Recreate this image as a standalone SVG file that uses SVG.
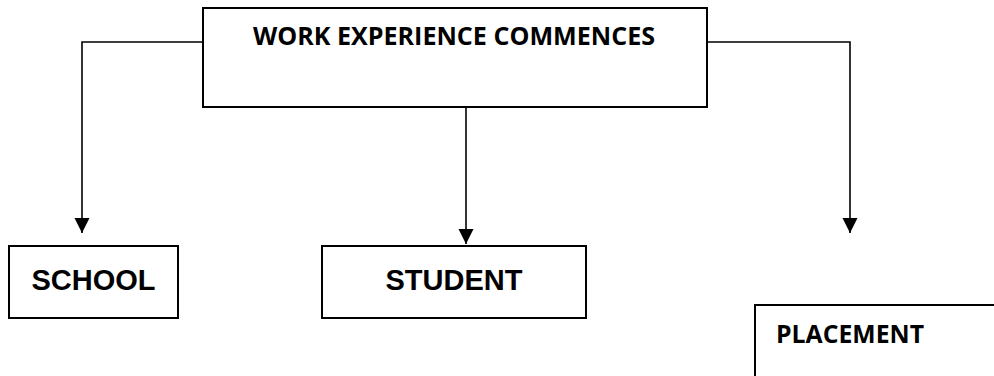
<svg xmlns="http://www.w3.org/2000/svg" width="994" height="376" viewBox="0 0 994 376">
<style>
.box{fill:#fff;stroke:#000;stroke-width:2}
.con{fill:none;stroke:#000;stroke-width:1.6}
.cal{font-family:"Open Sans","Liberation Sans",sans-serif;font-weight:bold;font-size:25px;fill:#000}
.ari{font-family:"Liberation Sans",Arial,sans-serif;font-weight:bold;font-size:29px;fill:#000}
</style>
<defs>
<marker id="ah" markerUnits="userSpaceOnUse" markerWidth="16" markerHeight="16" viewBox="0 0 16 16" refX="15" refY="8" orient="auto">
<path d="M0,0.5 L15,8 L0,15.5 Z" fill="#000"/>
</marker>
</defs>
<g id="connectors">
<path class="con" d="M203,42 H82 V233" marker-end="url(#ah)"/>
<path class="con" d="M466,102 V244" marker-end="url(#ah)"/>
<path class="con" d="M707,42 H850 V233" marker-end="url(#ah)"/>
</g>
<g id="work-experience">
<rect class="box" x="203" y="8" width="504" height="99"/>
<text class="cal" x="253" y="45" textLength="402" lengthAdjust="spacingAndGlyphs">WORK EXPERIENCE COMMENCES</text>
</g>
<g id="school">
<rect class="box" x="9" y="246" width="169" height="72"/>
<text class="ari" x="93.5" y="290" text-anchor="middle">SCHOOL</text>
</g>
<g id="student">
<rect class="box" x="322" y="246" width="264" height="72"/>
<text class="ari" x="454" y="290" text-anchor="middle">STUDENT</text>
</g>
<g id="placement">
<rect class="box" x="755" y="305" width="260" height="100"/>
<text class="cal" x="776" y="343" textLength="148" lengthAdjust="spacingAndGlyphs">PLACEMENT</text>
</g>
</svg>
